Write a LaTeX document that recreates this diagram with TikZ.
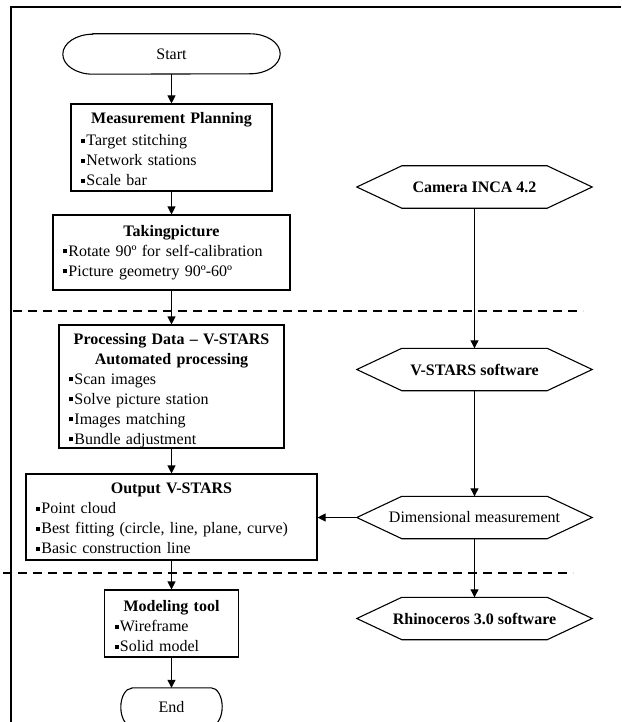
\documentclass[tikz,border=0pt]{standalone}
\usepackage{fontspec}
\setmainfont{Liberation Serif}
\usetikzlibrary{arrows.meta,calc}
\newcommand{\bul}{\rule[0.18em]{0.28em}{0.28em}\kern0.06em}
\newcommand{\topstrut}[1]{\rule{0pt}{#1}}
\begin{document}
\begin{tikzpicture}[x=1pt,y=-1pt,
  every node/.style={font=\fontsize{16}{20}\selectfont},
  box/.style={draw,line width=1.1pt,rectangle,inner xsep=10pt,inner ysep=0pt},
  hexn/.style={rectangle,inner sep=0pt,minimum width=235pt,minimum height=42pt},
  term/.style={rectangle,inner sep=0pt},
  arr/.style={line width=1.1pt,-{Triangle[length=8pt,width=8pt]}},
  lin/.style={line width=1.1pt},
  sep/.style={line width=1.1pt,dash pattern=on 9pt off 6pt},
  frame/.style={line width=1.8pt}
]
\useasboundingbox (0,0) rectangle (621,722);
\begin{scope}
\clip (0,0) rectangle (621,722);
% frame
\draw[frame] (11,722) -- (11,7) -- (621,7);
% separators
\draw[sep] (13,311) -- (583,311);
\draw[sep] (3,573) -- (573,573);

% left column
\node[term,minimum width=217pt,minimum height=40pt] (st) at (171.5,54) {Start};
\node[box,text width=181pt,minimum height=87pt] (meas) at (171.5,147.5)
 {{\centering\topstrut{15pt}\textbf{Measurement Planning}\par}\vspace{2pt}\raggedright
  \bul Target stitching\\\bul Network stations\\\bul Scale bar};
\node[box,text width=217pt,minimum height=75pt] (take) at (171.5,252.5)
 {{\centering\textbf{Takingpicture}\par}\raggedright
  \bul Rotate 90º for self-calibration\\\bul Picture geometry 90º-60º};
\node[box,text width=205pt,minimum height=123pt] (proc) at (171.5,386.5)
 {{\centering\topstrut{19pt}\textbf{Processing Data – V-STARS}\\\textbf{Automated processing}\par}\raggedright
  \bul Scan images\\\bul Solve picture station\\\bul Images matching\\\bul Bundle adjustment};
\node[box,text width=271pt,minimum height=86pt] (out) at (171.5,517)
 {{\centering\topstrut{14pt}\textbf{Output V-STARS}\par}\raggedright
  \bul Point cloud\\\bul Best fitting (circle, line, plane, curve)\\\bul Basic construction line};
\node[box,text width=114pt,minimum height=67pt] (model) at (171.5,623.5)
 {{\centering\topstrut{17pt}\textbf{Modeling tool}\par}\raggedright
  \bul Wireframe\\\bul Solid model};
\node[term,minimum width=101pt,minimum height=38pt] (end) at (171.5,707) {End};

% terminator outlines
\draw[lin] ([xshift=30pt]st.north west) -- ([xshift=-30pt]st.north east)
  arc[start angle=90,end angle=-90,x radius=30pt,y radius=20pt]
  -- ([xshift=30pt]st.south west)
  arc[start angle=270,end angle=90,x radius=30pt,y radius=20pt] -- cycle;
\draw[lin] ([xshift=11pt]end.north west) -- ([xshift=-11pt]end.north east)
  arc[start angle=90,end angle=-90,x radius=11pt,y radius=19pt]
  -- ([xshift=11pt]end.south west)
  arc[start angle=270,end angle=90,x radius=11pt,y radius=19pt] -- cycle;

% right column
\node[hexn] (cam) at (474.5,187) {\textbf{Camera INCA 4.2}};
\node[hexn] (vs) at (474.5,369.5) {\textbf{V-STARS software}};
\node[hexn] (dim) at (474.5,517.5) {Dimensional measurement};
\node[hexn] (rh) at (474.5,618.5) {\textbf{Rhinoceros 3.0 software}};
\foreach \n in {cam,vs,dim,rh}
  \draw[lin] (\n.west) -- ([xshift=45pt]\n.north west) -- ([xshift=-45pt]\n.north east)
    -- (\n.east) -- ([xshift=-45pt]\n.south east) -- ([xshift=45pt]\n.south west) -- cycle;

% connectors
\draw[arr] (st.south) -- (st.south |- meas.north);
\draw[arr] (meas.south) -- (meas.south |- take.north);
\draw[arr] (take.south) -- (take.south |- proc.north);
\draw[arr] (proc.south) -- (proc.south |- out.north);
\draw[arr] (out.south) -- (out.south |- model.north);
\draw[arr] (model.south) -- (model.south |- end.north);
\draw[arr] (cam.south) -- (vs.north);
\draw[arr] (vs.south) -- (dim.north);
\draw[arr] (dim.south) -- (rh.north);
\draw[arr] (dim.west) -- (dim.west -| out.east);
\end{scope}
\end{tikzpicture}
\end{document}
